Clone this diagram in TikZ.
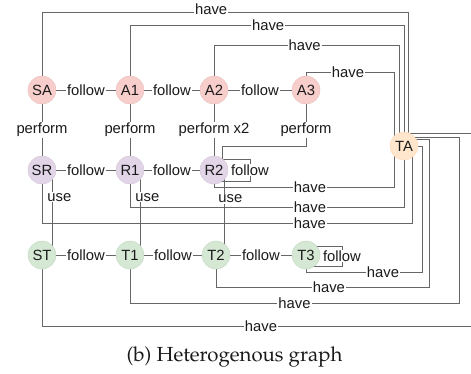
\documentclass[tikz,border=0pt]{standalone}
\usepackage[T1,TU]{fontenc}
\usepackage{fontspec}
\newfontfamily\labelfont{Liberation Sans}
\pgfdeclarelayer{wires}
\pgfsetlayers{wires,main}
\definecolor{wire}{HTML}{666666}
\definecolor{actfill}{HTML}{F8CECC}
\definecolor{resfill}{HTML}{E1D5E7}
\definecolor{toolfill}{HTML}{D5E8D4}
\definecolor{tafill}{HTML}{FFE6CC}
\definecolor{inkc}{HTML}{1A1A1A}
\tikzset{
  ent/.style={circle, minimum size=28pt, inner sep=0pt, line width=0.4pt,
    font=\labelfont\fontsize{14.8}{17}\selectfont, text=inkc},
  act/.style={ent, fill=actfill, draw=actfill!92!black},
  res/.style={ent, fill=resfill, draw=resfill!92!black},
  tool/.style={ent, fill=toolfill, draw=toolfill!92!black},
  target/.style={ent, fill=tafill, draw=tafill!88!orange},
  wire/.style={draw=wire, line width=0.9pt},
  lbl/.style={fill=white, inner sep=1pt, text=inkc,
    font=\labelfont\fontsize{14.8}{17}\selectfont},
}
\begin{document}
\begin{tikzpicture}[x=1pt,y=-1pt]
\useasboundingbox (0,0) rectangle (471,373);

% entity nodes
\node[act] (SA) at (42,90) {SA};
\node[act] (A1) at (130,90) {A1};
\node[act] (A2) at (214,90) {A2};
\node[act] (A3) at (306,90) {A3};
\node[res] (SR) at (42,170) {SR};
\node[res] (R1) at (130,170) {R1};
\node[res] (R2) at (214,170) {R2};
\node[tool] (ST) at (42,255) {ST};
\node[tool] (T1) at (130,255) {T1};
\node[tool] (T2) at (216,255) {T2};
\node[tool] (T3) at (306,255) {T3};
\node[target] (TA) at (404,146) {TA};

\begin{pgfonlayer}{wires}
% follow chains
\draw[wire] (SA) -- node[lbl] {follow} (A1);
\draw[wire] (A1) -- node[lbl] {follow} (A2);
\draw[wire] (A2) -- node[lbl] {follow} (A3);
\draw[wire] (SR) -- node[lbl] {follow} (R1);
\draw[wire] (R1) -- node[lbl] {follow} (R2);
\draw[wire] (ST) -- node[lbl] {follow} (T1);
\draw[wire] (T1) -- node[lbl] {follow} (T2);
\draw[wire] (T2) -- node[lbl] {follow} (T3);
% self loops
\draw[wire] (R2 |- 0,159) -- (250,159) -- node[lbl] {follow} (250,181) -- (R2 |- 0,181);
\draw[wire] (T3 |- 0,246) -- (342,246) -- node[lbl] {follow} (342,266) -- (T3 |- 0,266);

% perform
\draw[wire] (SA) -- node[lbl] {perform} (SR);
\draw[wire] (A1) -- node[lbl] {perform} (R1);
\draw[wire] (A2) -- node[lbl] {perform x2} (R2);
\draw[wire] (A3) -- node[lbl, pos=0.62] {perform} (306,146) -- (222,146) -- (222,170);

% use
\draw[wire] (52,170) -- node[lbl, pos=0.32, anchor=west, xshift=-6pt] {use} (52,255);
\draw[wire] (140,170) -- node[lbl, pos=0.32, anchor=west, xshift=-6pt] {use} (140,255);
\draw[wire] (224,170) -- node[lbl, pos=0.34, anchor=west, xshift=-7pt] {use} (224,255);

% have: upper entities into TA
\draw[wire] (SA) -- (42,12) -- node[lbl, pos=0.462, yshift=3pt] {have} (408,12) -- (TA -| 408,0);
\draw[wire] (A1) -- (130,25) -- node[lbl, pos=0.504] {have} (404,25) -- (TA);
\draw[wire] (A2) -- (214,45) -- node[lbl, pos=0.49] {have} (399,45) -- (TA -| 399,0);
\draw[wire] (A3) -- (306,72) -- node[lbl, pos=0.477] {have} (394,72) -- (TA -| 394,0);

% have: lower entities into TA
\draw[wire] (R2) -- (214,187) -- node[lbl, pos=0.533] {have} (394,187) -- (TA -| 394,0);
\draw[wire] (R1) -- (130,207) -- node[lbl, pos=0.657] {have} (404,207) -- (TA);
\draw[wire] (SR) -- (42,223) -- node[lbl, pos=0.724] {have} (412,223) -- (TA -| 412,0);
\draw[wire] (T3) -- (306,272) -- node[lbl, pos=0.664] {have} (422,272) -- (TA -| 422,0) -- (TA);
\draw[wire] (T2) -- (216,287) -- node[lbl, pos=0.53] {have} (429,287) -- (429,139) -- (TA |- 0,139);
\draw[wire] (T1) -- (130,303) -- node[lbl, pos=0.50] {have} (459,303) -- (459,137) -- (TA |- 0,137);
\draw[wire] (ST) -- (42,326) -- node[lbl, pos=0.5] {have} (480,326) -- (480,133) -- (TA |- 0,133);
\end{pgfonlayer}

% caption
\node[anchor=base, inner sep=0pt, text=inkc] (cap) at (234.5,361)
  {\fontencoding{T1}\fontfamily{ppl}\fontsize{20.4}{24}\selectfont (b) Heterogenous graph};
\end{tikzpicture}
\end{document}
